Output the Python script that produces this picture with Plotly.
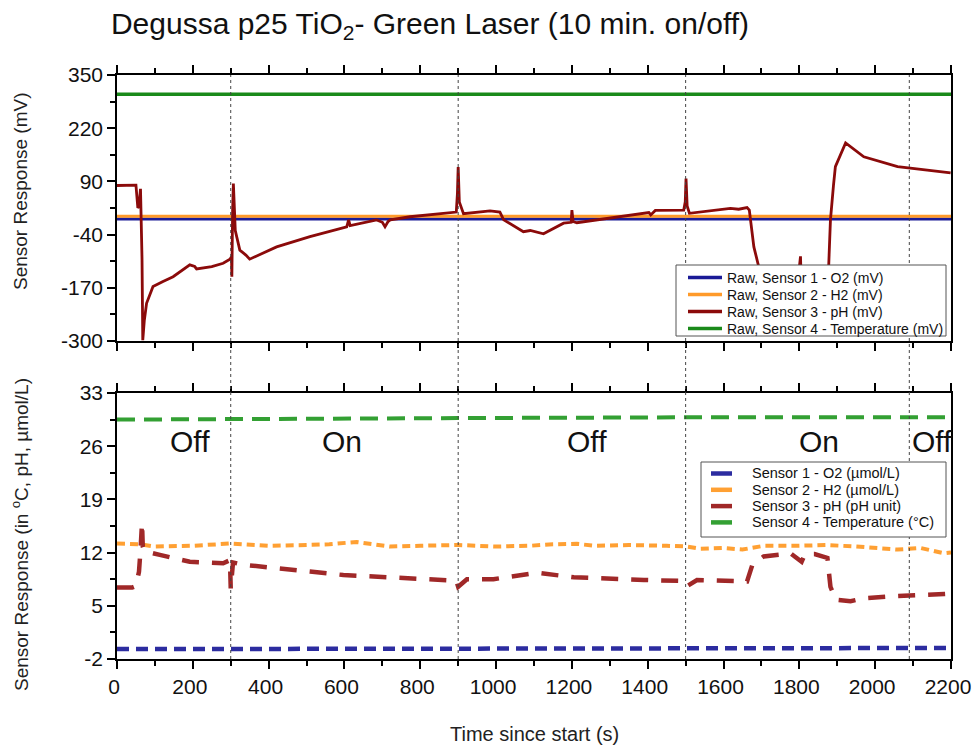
import plotly.graph_objects as go

# ---------------- data ----------------
# Top panel: raw sensor voltages (mV)
t_o2_raw = [0, 550, 1100, 1650, 2200]
o2_raw = [-2, -2, -2, -2, -2]
t_h2_raw = [0, 550, 1100, 1650, 2200]
h2_raw = [5, 5, 5, 5, 5]
t_temp_raw = [0, 550, 1100, 1650, 2200]
temp_raw = [303, 303, 303, 303, 303]

t_ph_raw = [0, 50, 55, 58, 62, 66, 68, 72, 78, 95, 120, 148, 192, 205, 210, 250, 280,
            298, 302, 303, 305, 307, 312, 324, 340, 350, 421, 509, 606, 609, 611, 615,
            685, 700, 707, 715, 721, 773, 861, 895, 898, 900, 903, 914, 984, 1010, 1020,
            1072, 1090, 1125, 1178, 1198, 1200, 1203, 1213, 1310, 1403, 1408, 1420, 1495,
            1499, 1501, 1504, 1510, 1618, 1640, 1662, 1668, 1680, 1693, 1710, 1760, 1798,
            1800, 1803, 1806, 1860, 1876, 1882, 1890, 1895, 1922, 1970, 2059, 2199]
ph_raw = [80, 81, 25, 30, 72, -100, -298, -250, -208, -167, -155, -143, -114, -118, -124,
          -118, -110, -100, -94, -143, 20, 85, -30, -78, -90, -100, -70, -45, -21, -8, -4,
          -18, -4, -10, -21, -8, -4, 3.6, 13, 15, 60, 125, 40, 11, 18, 15, -4, -33, -30,
          -38, -12, -10, 20, -8, -11, 2, 14, 8, 19, 20, 40, 97, 30, 12, 24, 22, 26, 20,
          -70, -119, -200, -215, -200, -120, -93, -200, -210, -150, -4, 80, 126, 184, 150,
          126, 111]

# Bottom panel: converted values
t_o2 = [0, 1100, 2200]
o2 = [-0.7, -0.65, -0.55]

t_h2 = [0, 60, 100, 200, 300, 400, 500, 560, 632, 680, 720, 800, 900, 1000, 1090, 1150,
        1213, 1260, 1350, 1450, 1504, 1540, 1600, 1650, 1706, 1800, 1870, 1950, 2059,
        2120, 2182, 2200]
h2 = [13.2, 13.1, 12.8, 12.9, 13.2, 12.9, 13.0, 13.1, 13.4, 13.1, 12.8, 12.9, 13.0, 12.8,
      12.9, 13.1, 13.15, 12.9, 13.0, 12.9, 12.8, 12.5, 12.6, 12.4, 12.9, 12.9, 13.0, 12.8,
      12.4, 12.6, 11.9, 12.0]

t_ph = [0, 40, 50, 58, 62, 66, 68, 72, 113, 192, 280, 298, 300, 303, 306, 333, 421, 509,
        597, 685, 817, 870, 895, 900, 910, 923, 993, 1108, 1205, 1301, 1390, 1495, 1504,
        1530, 1618, 1662, 1676, 1706, 1777, 1794, 1806, 1815, 1840, 1874, 1882, 1896,
        1935, 1970, 2059, 2182, 2200]
ph = [7.4, 7.4, 7.6, 9.5, 12.3, 15.9, 12.8, 12.2, 11.7, 10.8, 10.6, 11.0, 7.3, 9.0, 10.7,
      10.4, 9.9, 9.5, 9.05, 8.8, 8.5, 8.4, 8.3, 7.5, 8.0, 8.5, 8.5, 9.35, 8.75, 8.5, 8.4,
      8.26, 7.6, 8.4, 8.3, 8.2, 10.4, 11.5, 11.9, 11.3, 10.8, 11.8, 11.8, 11.3, 7.5, 5.8,
      5.6, 6.0, 6.3, 6.55, 6.6]

t_temp = [0, 300, 900, 1500, 2200]
temp = [29.5, 29.6, 29.7, 29.8, 29.8]

switch_times = [300, 900, 1500, 2090]
phase_labels = ["Off", "On", "Off", "On", "Off"]
phase_pos = [192, 594, 1239, 1851, 2150]

top_ticks = [-300, -170, -40, 90, 220, 350]
bottom_ticks = [-2, 5, 12, 19, 26, 33]
x_ticks = list(range(0, 2201, 200))

top_names = ["Raw, Sensor 1 - O2 (mV)", "Raw, Sensor 2 - H2 (mV)",
             "Raw, Sensor 3 - pH (mV)", "Raw, Sensor 4 - Temperature (mV)"]
bottom_names = ["Sensor 1 - O2 (µmol/L)", "Sensor 2 - H2 (µmol/L)",
                "Sensor 3 - pH (pH unit)", "Sensor 4 - Temperature (°C)"]

# ---------------- styling ----------------
FONT = "Arial, Liberation Sans, sans-serif"
top_colors = ["#1a1a96", "#ff9a2a", "#8b0a0a", "#1a8a1a"]
top_widths = [3, 3, 2.8, 3.5]
bot_colors = ["#2c2ca0", "#ffa033", "#a02828", "#33a033"]
bot_widths = [4.5, 4, 4.5, 4]
bot_dashes = ["12px,7px", "8px,5px", "17px,13px", "18px,9px"]

# page-pixel -> paper helpers (plot area: x 117..951, y 75..659 in the window;
# the page body adds an 8px margin, which the figure size and margins account for)
PX0, PX1, PY0, PY1 = 117, 951, 75, 659
FIG_W, FIG_H = 964, 739


def px(x):
    return (x - PX0) / (PX1 - PX0)


def py(y):
    return (PY1 - y) / (PY1 - PY0)


fig = go.Figure()
top_data = [(t_o2_raw, o2_raw), (t_h2_raw, h2_raw), (t_ph_raw, ph_raw), (t_temp_raw, temp_raw)]
for (tx, vy), name, c, w in zip(top_data, top_names, top_colors, top_widths):
    fig.add_trace(go.Scatter(x=tx, y=vy, mode="lines", name=name, showlegend=False,
                             line=dict(color=c, width=w), xaxis="x", yaxis="y"))

bot_data = [(t_o2, o2), (t_h2, h2), (t_ph, ph), (t_temp, temp)]
for (tx, vy), name, c, w, d in zip(bot_data, bottom_names, bot_colors, bot_widths, bot_dashes):
    fig.add_trace(go.Scatter(x=tx, y=vy, mode="lines", name=name, showlegend=False,
                             line=dict(color=c, width=w, dash=d), xaxis="x2", yaxis="y2"))

axis_common = dict(showline=True, linecolor="black", linewidth=1.6, showgrid=False,
                   zeroline=False, ticks="outside", tickcolor="black", tickwidth=1.6,
                   automargin=False,
                   tickfont=dict(family=FONT, size=21, color="#111"))

shapes = []
for t in switch_times:
    shapes.append(dict(type="line", xref="x", yref="paper", x0=t, x1=t, y0=0, y1=1,
                       line=dict(color="#444", width=1, dash="dot")))

annotations = []
for lbl, p in zip(phase_labels, phase_pos):
    annotations.append(dict(x=p, y=26.6, xref="x2", yref="y2", text=lbl, showarrow=False,
                            xanchor="center", yanchor="middle",
                            font=dict(family=FONT, size=30, color="#111")))
annotations.append(dict(x=px(20), y=py(192), xref="paper", yref="paper", textangle=-90,
                        xanchor="center", yanchor="middle",
                        text="Sensor Response (mV)", showarrow=False,
                        font=dict(family=FONT, size=19, color="#222")))
annotations.append(dict(x=px(20), y=py(535), xref="paper", yref="paper", textangle=-90,
                        xanchor="center", yanchor="middle",
                        text="Sensor Response (in <sup>o</sup>C, pH, µmol/L)", showarrow=False,
                        font=dict(family=FONT, size=19, color="#222")))
annotations.append(dict(x=px(534), y=py(734), xref="paper", yref="paper",
                        xanchor="center", yanchor="middle",
                        text="Time since start (s)", showarrow=False,
                        font=dict(family=FONT, size=20, color="#222")))


# ----- legends drawn as boxes with line samples and text -----
def add_legend(box, rows, sample_x, text_x, names, colors, widths, fsize):
    x0, x1, y0, y1 = box
    shapes.append(dict(type="rect", xref="paper", yref="paper", layer="above",
                       x0=px(x0), x1=px(x1), y0=py(y1), y1=py(y0),
                       fillcolor="white", line=dict(color="#555", width=1)))
    for r, name, c, w in zip(rows, names, colors, widths):
        shapes.append(dict(type="line", xref="paper", yref="paper", layer="above",
                           x0=px(sample_x[0]), x1=px(sample_x[1]), y0=py(r), y1=py(r),
                           line=dict(color=c, width=w)))
        annotations.append(dict(x=px(text_x), y=py(r), xref="paper", yref="paper",
                                xanchor="left", yanchor="middle", text=name, showarrow=False,
                                font=dict(family=FONT, size=fsize, color="#111")))


add_legend((676, 946, 265, 336), [277.5, 294.5, 311.5, 328.5], (688, 722), 725,
           top_names, top_colors, [3.5, 3.5, 3.5, 3.5], 14)
add_legend((701, 946, 462, 537), [473.5, 489.8, 506.1, 522.4], (711, 732), 750,
           bottom_names, bot_colors, [4.5, 4.5, 4.5, 4.5], 14.5)

fig.update_layout(
    width=FIG_W, height=FIG_H,
    margin=dict(l=PX0 - 8, r=FIG_W + 8 - PX1, t=PY0 - 8, b=FIG_H + 8 - PY1, autoexpand=False),
    paper_bgcolor="white", plot_bgcolor="white",
    font=dict(family=FONT, color="#111"),
    title=dict(text="Degussa p25 TiO<sub>2</sub>- Green Laser (10 min. on/off)",
               x=(430 - 8) / FIG_W, xanchor="center", xref="container",
               y=1 - (23 - 8) / FIG_H, yanchor="middle", yref="container",
               font=dict(family=FONT, size=30, color="#111")),
    xaxis=dict(domain=[0, 1], anchor="y", range=[0, 2200], tickvals=x_ticks,
               showticklabels=False, ticklen=8, mirror="ticks",
               minor=dict(ticks="outside", dtick=100, tick0=0, ticklen=5, tickcolor="black", tickwidth=1.6),
               **axis_common),
    yaxis=dict(domain=[py(341), 1], anchor="x", range=[-300, 350], tickvals=top_ticks,
               ticktext=[str(v) for v in top_ticks], ticklen=8, mirror=True,
               minor=dict(ticks="outside", dtick=65, tick0=-300, ticklen=5, tickcolor="black", tickwidth=1.6),
               **axis_common),
    xaxis2=dict(domain=[0, 1], anchor="y2", range=[0, 2200], tickvals=x_ticks,
                ticktext=[str(v) for v in x_ticks], ticklen=8, mirror="ticks",
                ticklabeloverflow="allow", ticklabelshift=-3,
                minor=dict(ticks="outside", dtick=100, tick0=0, ticklen=5, tickcolor="black", tickwidth=1.6),
                **axis_common),
    yaxis2=dict(domain=[0, py(393)], anchor="x2", range=[-2, 33], tickvals=bottom_ticks,
                ticktext=[str(v) for v in bottom_ticks], ticklen=8, mirror=True,
                minor=dict(ticks="outside", dtick=3.5, tick0=-2, ticklen=5, tickcolor="black", tickwidth=1.6),
                **axis_common),
    showlegend=False,
    shapes=shapes,
    annotations=annotations,
)

fig.write_html("out.html")
